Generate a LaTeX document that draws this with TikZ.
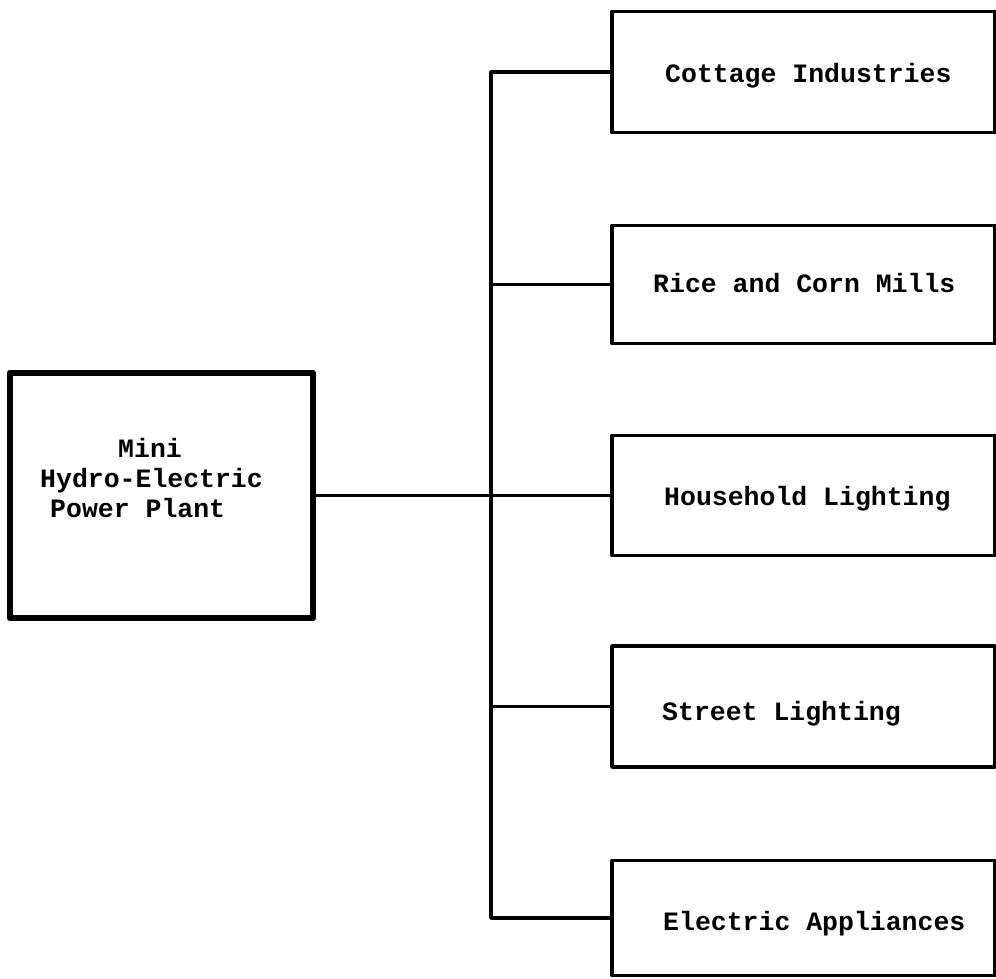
\documentclass[tikz,border=0pt]{standalone}
\usepackage{fontspec}
\newfontfamily\twfont{Liberation Mono}
\tikzset{
  conn/.style={line width=3.5pt, line cap=round, line join=round},
  outbox/.style={draw, line width=3.5pt, line join=round, minimum width=383pt, inner sep=0pt, outer sep=0pt, rectangle},
  mainbox/.style={draw, line width=6.5pt, line join=round, minimum width=303pt, minimum height=245pt, inner sep=0pt, outer sep=0pt, rectangle},
  lbl/.style={font=\twfont\bfseries\fontsize{26.5}{30}\selectfont, inner sep=0pt, anchor=base west}
}
\begin{document}
\begin{tikzpicture}[x=1pt, y=-1pt]
\useasboundingbox (0,0) rectangle (996,978);
% main box
\node[mainbox] (plant) at (161.5,495.5) {};
\node[lbl, align=left] (plantlabel) at (40,517) {\hspace*{78pt}Mini\\Hydro-Electric\\\hspace*{10pt}Power Plant};
% output boxes
\node[outbox, minimum height=121pt] (b1) at (803.5,72) {};
\node[outbox, minimum height=118pt] (b2) at (803.5,284.5) {};
\node[outbox, minimum height=120pt] (b3) at (803.5,495.5) {};
\node[outbox, minimum height=121pt] (b4) at (803.5,706.5) {};
\node[outbox, minimum height=115pt] (b5) at (803.5,918) {};
\node[lbl] (t1) at (665,82) {Cottage Industries};
\node[lbl] (t2) at (653,292) {Rice and Corn Mills};
\node[lbl] (t3) at (664,505) {Household Lighting};
\node[lbl] (t4) at (662,720) {Street Lighting};
\node[lbl] (t5) at (663,930) {Electric Appliances};
% connectors
\coordinate (busx) at (491,0);
\draw[conn] (plant.east) -- (b3.west);
\draw[conn] (b1.west) -- (b1.west -| busx) -- (b5.west -| busx) -- (b5.west);
\draw[conn] (b2.west) -- (b2.west -| busx);
\draw[conn] (b4.west) -- (b4.west -| busx);
\end{tikzpicture}
\end{document}
